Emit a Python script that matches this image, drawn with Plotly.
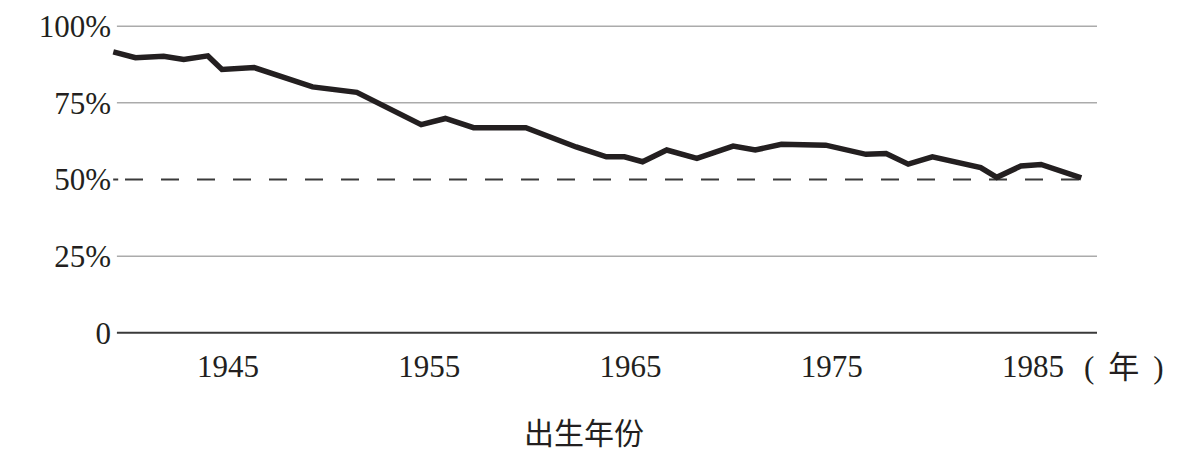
import plotly.graph_objects as go

# Birth year and share (%)
birth_year = [1939.3, 1940.4, 1941.8, 1942.8, 1944.0, 1944.7, 1946.3, 1949.2, 1951.4,
              1954.6, 1955.8, 1957.2, 1959.8, 1962.3, 1963.8, 1964.7, 1965.6, 1966.8,
              1968.3, 1970.1, 1971.2, 1972.5, 1974.7, 1976.7, 1977.7, 1978.8, 1980.0,
              1982.4, 1983.2, 1984.4, 1985.4, 1987.4]
share_pct = [91.6, 89.7, 90.2, 89.1, 90.3, 85.9, 86.5, 80.2, 78.4,
             67.9, 69.9, 66.9, 66.9, 60.6, 57.4, 57.4, 55.8, 59.6,
             56.9, 60.9, 59.6, 61.5, 61.2, 58.2, 58.5, 55.0, 57.4,
             53.9, 50.7, 54.4, 54.9, 50.5]

x_ticks = [1945, 1955, 1965, 1975, 1985]
y_ticks = [0, 25, 50, 75, 100]
y_tick_text = ["0", "25%", "50%", "75%", "100%"]
grid_levels = [25, 75, 100]
ref_level = 50

X_MIN, X_MAX = 1939.236, 1988.18
GRID_START = 1939.48

ink = "#231f20"
serif = "Liberation Serif, Times New Roman, serif"
mixed = "Liberation Serif, Noto Sans CJK SC"
cjk = "Noto Sans CJK SC"

# page body has an 8px margin: figure occupies window px 8..1191
PL, PT = 104, 12          # plot left/top in figure px
PW, PH = 985, 319

fig = go.Figure()
fig.add_trace(go.Scatter(x=birth_year, y=share_pct, mode="lines",
                         line=dict(color=ink, width=5.5), hoverinfo="skip",
                         showlegend=False))

shapes = []
for g in grid_levels:
    shapes.append(dict(type="line", xref="x", yref="y", x0=GRID_START, x1=X_MAX,
                       y0=g, y1=g, line=dict(color="#ababab", width=1.5), layer="below"))
shapes.append(dict(type="line", xref="x", yref="y", x0=GRID_START, x1=X_MAX,
                   y0=0, y1=0, line=dict(color="#3a3a3a", width=2), layer="below"))
# dashed 50% reference line
shapes.append(dict(type="line", xref="paper", yref="y", x0=0.0012, x1=0.0063,
                   y0=ref_level, y1=ref_level, line=dict(color="#3a3a3a", width=2), layer="below"))
shapes.append(dict(type="line", xref="paper", yref="y", x0=13 / PW, x1=1.0,
                   y0=ref_level, y1=ref_level,
                   line=dict(color="#3a3a3a", width=2, dash="18px,18px"), layer="below"))

def px_x(win_x):
    return (win_x - 8 - PL) / PW

def px_y(win_y):
    return 1 - (win_y - 8 - PT) / PH

fig.update_layout(
    width=1183, height=445,
    margin=dict(l=PL, r=1183 - PL - PW, t=PT, b=445 - PT - PH, autoexpand=False),
    paper_bgcolor="white", plot_bgcolor="white",
    shapes=shapes,
    xaxis=dict(range=[X_MIN, X_MAX], tickvals=x_ticks, ticktext=[str(v) for v in x_ticks],
               showgrid=False, zeroline=False, showline=False, ticks="",
               ticklabelstandoff=6, automargin=False,
               tickfont=dict(family=serif, size=31, color=ink)),
    yaxis=dict(range=[-2, 102], tickvals=y_ticks, ticktext=y_tick_text,
               showgrid=False, zeroline=False, showline=False, ticks="",
               automargin=False,
               tickfont=dict(family=serif, size=31, color=ink)),
    annotations=[
        dict(text="(\u00a0\u2009年\u00a0\u2009)", xref="paper", yref="paper", x=px_x(1124),
             y=px_y(367), xanchor="center", yanchor="middle",
             showarrow=False, font=dict(family=mixed, size=31, color=ink)),
        dict(text="出生年份", xref="paper", yref="paper", x=px_x(584),
             y=px_y(431), xanchor="center", yanchor="middle",
             showarrow=False, font=dict(family=cjk, size=30, color=ink)),
    ],
)

fig.write_html("out.html")
